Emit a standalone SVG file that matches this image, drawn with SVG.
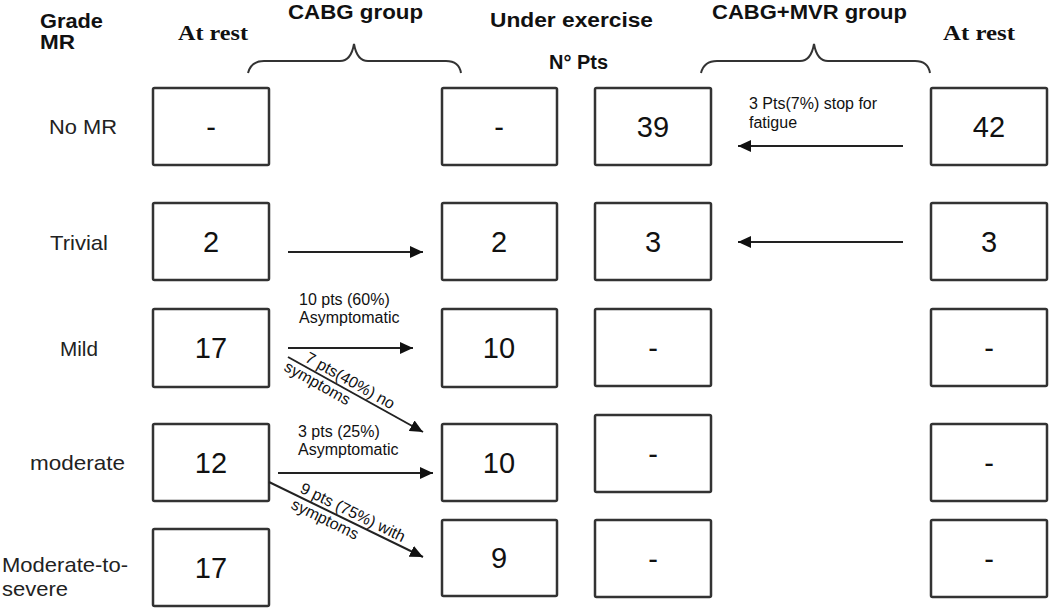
<svg xmlns="http://www.w3.org/2000/svg" width="1050" height="609" viewBox="0 0 1050 609">
<style>
.box{fill:#fff;stroke:#333;stroke-width:2.5}
.num{font-family:"Liberation Sans",Arial,sans-serif;font-size:29px;fill:#111;text-anchor:middle}
.row{font-family:"Liberation Sans",Arial,sans-serif;font-size:21px;fill:#222}
.hd{font-family:"Liberation Sans",Arial,sans-serif;font-size:20px;font-weight:bold;fill:#111}
.rest{font-family:"Liberation Serif","Times New Roman",serif;font-size:22px;font-weight:bold;fill:#111}
.lbl{font-family:"Liberation Sans",Arial,sans-serif;font-size:16px;fill:#111}
.ln{stroke:#222;stroke-width:2;fill:none}
.brace{stroke:#333;stroke-width:2;fill:none}
</style>
<defs>
<marker id="ah" markerUnits="userSpaceOnUse" markerWidth="14" markerHeight="12" refX="13" refY="6" orient="auto">
<path d="M0,0 L13,6 L0,12 Z" fill="#111"/>
</marker>
</defs>
<rect width="1050" height="609" fill="#fff"/>

<g id="headers">
<text class="hd" x="40" y="28" textLength="63" lengthAdjust="spacingAndGlyphs">Grade</text>
<text class="hd" x="40" y="49" textLength="35" lengthAdjust="spacingAndGlyphs">MR</text>
<text class="rest" x="178" y="40" textLength="70" lengthAdjust="spacingAndGlyphs">At rest</text>
<text class="hd" x="288" y="19" textLength="135" lengthAdjust="spacingAndGlyphs">CABG group</text>
<text class="hd" x="490" y="27" textLength="163" lengthAdjust="spacingAndGlyphs">Under exercise</text>
<text class="hd" x="549" y="69" textLength="59" lengthAdjust="spacingAndGlyphs">N° Pts</text>
<text class="hd" x="712" y="19" textLength="195" lengthAdjust="spacingAndGlyphs">CABG+MVR group</text>
<text class="rest" x="943" y="40" textLength="72" lengthAdjust="spacingAndGlyphs">At rest</text>
<path class="brace" d="M248,73 Q251,61 264,61 L340,61 Q351,61 354,44 Q357,61 368,61 L446,61 Q459,61 461,73"/>
<path class="brace" d="M701,73 Q704,61 717,61 L800,61 Q811,61 814,44 Q817,61 828,61 L915,61 Q928,61 930,73"/>
</g>

<g id="row-labels">
<text class="row" x="49" y="134" textLength="68" lengthAdjust="spacingAndGlyphs">No MR</text>
<text class="row" x="50" y="250" textLength="58" lengthAdjust="spacingAndGlyphs">Trivial</text>
<text class="row" x="60" y="356" textLength="38" lengthAdjust="spacingAndGlyphs">Mild</text>
<text class="row" x="30" y="470" textLength="95" lengthAdjust="spacingAndGlyphs">moderate</text>
<text class="row" x="2" y="572" textLength="126" lengthAdjust="spacingAndGlyphs">Moderate-to-</text>
<text class="row" x="2" y="596" textLength="66" lengthAdjust="spacingAndGlyphs">severe</text>
</g>

<g id="n-c1-r1"><rect class="box" x="153" y="88" width="116" height="77" rx="1.5"/><text class="num" x="211" y="137">-</text></g>
<g id="n-c1-r2"><rect class="box" x="153" y="203" width="116" height="77" rx="1.5"/><text class="num" x="211" y="252">2</text></g>
<g id="n-c1-r3"><rect class="box" x="153" y="309" width="116" height="78" rx="1.5"/><text class="num" x="211" y="358">17</text></g>
<g id="n-c1-r4"><rect class="box" x="153" y="424" width="116" height="77" rx="1.5"/><text class="num" x="211" y="473">12</text></g>
<g id="n-c1-r5"><rect class="box" x="153" y="529" width="116" height="77" rx="1.5"/><text class="num" x="211" y="578">17</text></g>

<g id="n-c2-r1"><rect class="box" x="442" y="88" width="115" height="77" rx="1.5"/><text class="num" x="499" y="137">-</text></g>
<g id="n-c2-r2"><rect class="box" x="442" y="203" width="115" height="77" rx="1.5"/><text class="num" x="499" y="252">2</text></g>
<g id="n-c2-r3"><rect class="box" x="442" y="309" width="115" height="78" rx="1.5"/><text class="num" x="499" y="358">10</text></g>
<g id="n-c2-r4"><rect class="box" x="442" y="424" width="115" height="77" rx="1.5"/><text class="num" x="499" y="473">10</text></g>
<g id="n-c2-r5"><rect class="box" x="442" y="520" width="115" height="76" rx="1.5"/><text class="num" x="499" y="568">9</text></g>

<g id="n-c3-r1"><rect class="box" x="595" y="88" width="116" height="77" rx="1.5"/><text class="num" x="653" y="137">39</text></g>
<g id="n-c3-r2"><rect class="box" x="595" y="203" width="116" height="77" rx="1.5"/><text class="num" x="653" y="252">3</text></g>
<g id="n-c3-r3"><rect class="box" x="595" y="309" width="116" height="77" rx="1.5"/><text class="num" x="653" y="358">-</text></g>
<g id="n-c3-r4"><rect class="box" x="595" y="415" width="116" height="77" rx="1.5"/><text class="num" x="653" y="464">-</text></g>
<g id="n-c3-r5"><rect class="box" x="595" y="520" width="116" height="77" rx="1.5"/><text class="num" x="653" y="569">-</text></g>

<g id="n-c4-r1"><rect class="box" x="931" y="88" width="116" height="77" rx="1.5"/><text class="num" x="989" y="137">42</text></g>
<g id="n-c4-r2"><rect class="box" x="931" y="203" width="116" height="77" rx="1.5"/><text class="num" x="989" y="252">3</text></g>
<g id="n-c4-r3"><rect class="box" x="931" y="309" width="116" height="77" rx="1.5"/><text class="num" x="989" y="358">-</text></g>
<g id="n-c4-r4"><rect class="box" x="931" y="424" width="116" height="77" rx="1.5"/><text class="num" x="989" y="473">-</text></g>
<g id="n-c4-r5"><rect class="box" x="931" y="520" width="116" height="77" rx="1.5"/><text class="num" x="989" y="569">-</text></g>

<g id="connectors">
<line class="ln" x1="288" y1="252" x2="423" y2="252" marker-end="url(#ah)"/>
<line class="ln" x1="903" y1="146" x2="738" y2="146" marker-end="url(#ah)"/>
<line class="ln" x1="903" y1="242" x2="738" y2="242" marker-end="url(#ah)"/>
<line class="ln" x1="288" y1="348" x2="413" y2="348" marker-end="url(#ah)"/>
<line class="ln" x1="288" y1="357" x2="423" y2="432" marker-end="url(#ah)"/>
<line class="ln" x1="278" y1="473" x2="433" y2="473" marker-end="url(#ah)"/>
<line class="ln" x1="269" y1="482" x2="423" y2="557" marker-end="url(#ah)"/>
</g>

<g id="connector-labels">
<text class="lbl" x="749" y="109">3 Pts(7%) stop for</text>
<text class="lbl" x="749" y="128">fatigue</text>
<text class="lbl" x="299" y="305">10 pts (60%)</text>
<text class="lbl" x="299" y="323">Asymptomatic</text>
<text class="lbl" x="298" y="437">3 pts (25%)</text>
<text class="lbl" x="298" y="455">Asymptomatic</text>
<text class="lbl" transform="translate(304,361) rotate(29.2)">7 pts(40%) no</text>
<text class="lbl" transform="translate(283,370) rotate(29.2)">symptoms</text>
<text class="lbl" transform="translate(299,492) rotate(26)">9 pts (75%) with</text>
<text class="lbl" transform="translate(290,508) rotate(26)">symptoms</text>
</g>
</svg>
